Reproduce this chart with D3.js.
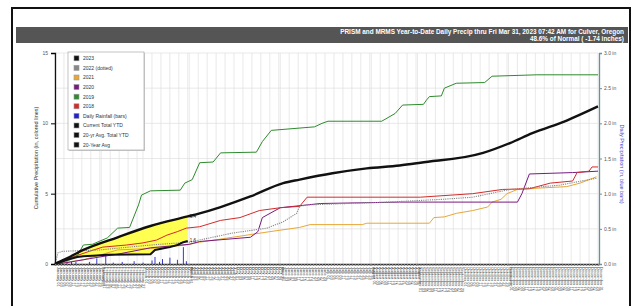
<!doctype html>
<html lang="en">
<head>
<meta charset="UTF-8">
<title>YTD Precip</title>
<script src="https://d3js.org/d3.v7.min.js"></script>
<style>
  body { margin: 0; background: #fff; }
  svg { display: block; font-family: "Liberation Sans", Arial, sans-serif; }
  .grid line { stroke: #e0e0e0; stroke-width: 0.7; }
</style>
</head>
<body>
<svg width="640" height="306"></svg>
<script>
// ---- data (day of year, inches) ----
const avg20 = [[1,0],[9,0.4],[20,1.0],[43,1.9],[65,2.7],[90,3.38],[98,3.6],[112,4.05],[132,4.8],[154,5.75],[165,6.0],[187,6.45],[210,6.8],[232,7.0],[246,7.2],[288,7.9],[306,8.6],[321,9.3],[344,10.2],[365,11.2]];
const y2023 = [[1,0],[9,0.3],[16,0.5],[20,0.55],[29,0.6],[36,0.65],[65,0.7],[68,1.0],[73,1.1],[78,1.2],[83,1.35],[87,1.55],[90,1.64]];
const y2022 = [[1,0],[3,0.8],[6,0.9],[31,1.0],[65,1.35],[91,1.55],[120,2.2],[143,2.55],[154,3.0],[163,3.6],[165,4.1],[170,4.2],[224,4.4],[261,4.6],[281,4.75],[306,5.3],[339,5.6],[364,6.1]];
const y2021 = [[1,0],[20,0.3],[43,1.0],[65,1.1],[89,1.35],[98,1.55],[120,1.9],[145,2.3],[165,2.6],[172,2.8],[207,2.8],[210,2.9],[252,2.9],[255,3.3],[262,3.35],[270,3.6],[281,3.8],[291,4.05],[294,4.4],[300,4.6],[304,5.0],[311,5.3],[326,5.4],[344,5.5],[353,5.75],[364,6.2]];
const y2020 = [[1,0],[9,0.1],[31,0.5],[43,0.7],[65,1.15],[91,1.4],[98,1.6],[132,1.9],[137,2.3],[140,3.3],[152,4.0],[170,4.2],[179,4.3],[232,4.4],[311,4.4],[314,5.0],[319,6.4],[348,6.5],[365,6.6]];
const y2019 = [[1,0],[11,0.3],[16,0.6],[20,1.35],[26,1.4],[36,1.85],[43,2.55],[51,2.6],[57,4.2],[59,4.9],[65,5.2],[85,5.25],[88,5.75],[93,6.0],[98,7.2],[107,7.25],[112,7.9],[136,7.95],[140,8.7],[146,9.5],[175,9.75],[180,10.0],[184,10.15],[220,10.15],[229,10.7],[234,11.3],[248,11.35],[250,11.65],[252,11.9],[260,11.95],[262,12.5],[270,12.85],[289,12.9],[294,13.35],[324,13.45],[365,13.45]];
const y2018 = [[1,0],[4,0.1],[13,0.5],[24,0.9],[33,1.2],[49,1.35],[60,1.5],[69,1.7],[76,2.05],[83,2.3],[89,2.55],[98,2.65],[112,3.1],[125,3.3],[138,3.8],[152,4.0],[165,4.1],[170,4.75],[246,4.75],[281,5.0],[301,5.3],[319,5.35],[333,5.75],[348,5.9],[351,6.5],[359,6.6],[361,6.9],[365,6.9]];
const daily2023 = [[3,0.04],[6,0.07],[9,0.05],[12,0.04],[15,0.03],[24,0.03],[29,0.08],[35,0.14],[40,0.02],[46,0.03],[54,0.04],[60,0.02],[66,0.05],[68,0.1],[71,0.03],[73,0.07],[78,0.09],[83,0.06],[87,0.24],[89,0.04]];

const leftTicks = [0, 5, 10, 15];
const rightTicks = [0, 0.5, 1.0, 1.5, 2.0, 2.5, 3.0];
const legendItems = [
  ["2023", "#111"], ["2022 (dotted)", "#888"], ["2021", "#e8a735"], ["2020", "#7a1a80"],
  ["2019", "#2e8b2e"], ["2018", "#d42a2a"], ["Daily Rainfall (bars)", "#2222cc"],
  ["Current Total YTD", "#111"], ["20-yr Avg. Total YTD", "#111"], ["20-Year Avg", "#111"]
];
const title1 = "PRISM and MRMS Year-to-Date Daily Precip thru Fri Mar 31, 2023 07:42 AM for Culver, Oregon";
const title2 = "48.6% of Normal ( -1.74 inches)";

const svg = d3.select("svg");
const L = 55, R = 598, T = 53, B = 264;

// frame + title bar
svg.append("rect").attr("x", 12).attr("y", 8).attr("width", 618).attr("height", 310)
  .attr("fill", "#fff").attr("stroke", "#111").attr("stroke-width", 2);
svg.append("rect").attr("x", 16).attr("y", 27).attr("width", 612).attr("height", 16).attr("fill", "#555");
svg.append("text").attr("x", 624).attr("y", 34).attr("text-anchor", "end")
  .attr("fill", "#fff").attr("font-size", 6.4).attr("font-weight", "bold").text(title1);
svg.append("text").attr("x", 624).attr("y", 40.6).attr("text-anchor", "end")
  .attr("fill", "#fff").attr("font-size", 6.4).attr("font-weight", "bold").text(title2);

const start = new Date(2023, 0, 1);
const toDate = d => d3.timeDay.offset(start, d - 1);
const x = d3.scaleTime().domain([start, new Date(2023, 11, 31)]).range([L, R]);
const y = d3.scaleLinear().domain([0, 15]).range([B, T]);
const y2 = d3.scaleLinear().domain([0, 3]).range([B, T]);

// grid
const grid = svg.append("g").attr("class", "grid");
grid.selectAll(".v").data(d3.timeDay.every(6).range(start, new Date(2024, 0, 1)))
  .join("line").attr("x1", d => x(d)).attr("x2", d => x(d)).attr("y1", T).attr("y2", B);
grid.selectAll(".h").data(rightTicks.slice(1))
  .join("line").attr("x1", L).attr("x2", R).attr("y1", d => y2(d)).attr("y2", d => y2(d))
  .attr("stroke", "#d4d4d4");

const line = d3.line().x(p => x(toDate(p[0]))).y(p => y(p[1]));
const smooth = d3.line().x(p => x(toDate(p[0]))).y(p => y(p[1])).curve(d3.curveMonotoneX);

// yellow deficit area (Jan 1 - Mar 31): below the average curve, above the 2023 line
const avgYtd = avg20.filter(p => p[0] <= 90);
const xEnd = x(toDate(90)), xStart = x(toDate(1));
svg.append("clipPath").attr("id", "belowAvg").append("path")
  .attr("d", smooth(avgYtd) + `L${xEnd},${B}L${xStart},${B}Z`);
svg.append("path")
  .attr("d", line(y2023) + `L${xEnd},${T}L${xStart},${T}Z`)
  .attr("clip-path", "url(#belowAvg)")
  .attr("fill", "#ffff33").attr("opacity", 0.85);

// daily bars
svg.selectAll(".bar").data(daily2023).join("rect")
  .attr("x", d => x(toDate(d[0])) - 0.4).attr("width", 0.9)
  .attr("y", d => y2(d[1])).attr("height", d => B - y2(d[1]))
  .attr("fill", "#2222cc");

const series = [
  [y2021, "#e8a735", 1, null, line],
  [y2020, "#7a1a80", 1, null, line],
  [y2018, "#d42a2a", 1, null, line],
  [y2022, "#888", 1.1, "1.2,1", line],
  [y2019, "#2e8b2e", 1, null, line],
  [avg20, "#111", 2.4, null, smooth],
  [y2023, "#111", 2, null, line]
];
series.forEach(([pts, c, w, dash, gen]) => {
  svg.append("path").attr("d", gen(pts))
    .attr("fill", "none").attr("stroke", c).attr("stroke-width", w)
    .attr("stroke-dasharray", dash).attr("stroke-linejoin", "round");
});

// end labels
[avg20.find(p => p[0] === 90), y2023[y2023.length - 1]].forEach(p => {
  svg.append("text").attr("x", x(toDate(p[0])) + 2).attr("y", y(p[1]) + 1.5)
    .attr("font-size", 4.5).attr("fill", "#222").text(p[1].toFixed(1));
});

// axes
const gl = svg.append("g").attr("transform", `translate(${L},0)`)
  .call(d3.axisLeft(y).tickValues(leftTicks).tickSize(4).tickPadding(3));
gl.select(".domain").attr("stroke", "#111").attr("stroke-width", 1.3);
gl.selectAll("text").attr("font-size", 5).attr("fill", "#555");

const gr = svg.append("g").attr("transform", `translate(${R + 1},0)`)
  .call(d3.axisRight(y2).tickValues(rightTicks).tickSize(3).tickPadding(2)
    .tickFormat(d => d.toFixed(1) + " in"));
gr.select(".domain").attr("stroke", "#6b9095").attr("stroke-width", 1.3);
gr.selectAll("line").attr("stroke", "#6b9095");
gr.selectAll("text").attr("font-size", 5).attr("fill", "#555");

const gb = svg.append("g").attr("transform", `translate(0,${B})`)
  .call(d3.axisBottom(x).ticks(d3.timeDay.every(2)).tickSize(2).tickFormat(d3.timeFormat("%B %d")));
gb.select(".domain").attr("stroke", "#333").attr("stroke-width", 1.3);
gb.selectAll("line").attr("stroke", "#888");
gb.selectAll("text").attr("font-size", 4).attr("fill", "#444")
  .attr("text-anchor", "start").attr("dy", 0)
  .attr("transform", "translate(1.3,3) rotate(90)").attr("y", 0).attr("x", 0);

// axis titles
svg.append("text").attr("transform", "translate(38,158) rotate(-90)")
  .attr("text-anchor", "middle").attr("font-size", 5.5).attr("fill", "#333")
  .text("Cumulative Precipitation (in, colored lines)");
svg.append("text").attr("transform", "translate(620,164) rotate(90)")
  .attr("text-anchor", "middle").attr("font-size", 5.5).attr("fill", "#3a3acc")
  .text("Daily Precipitation (in, blue bars)");

// legend
const lg = svg.append("g").attr("transform", "translate(68,52)");
lg.append("rect").attr("x", 1).attr("y", 1).attr("width", 76).attr("height", 98).attr("fill", "#ccc");
lg.append("rect").attr("width", 76).attr("height", 98).attr("fill", "#fff").attr("stroke", "#aaa").attr("stroke-width", 0.7);
const li = lg.selectAll(".li").data(legendItems).join("g")
  .attr("transform", (d, i) => `translate(6,${6.3 + i * 9.6})`);
li.append("rect").attr("x", 0).attr("y", -2.5).attr("width", 5).attr("height", 5)
  .attr("fill", d => d[1]).attr("stroke", "#999").attr("stroke-width", 0.6);
li.append("text").attr("x", 9).attr("y", 1.8).attr("font-size", 5).attr("fill", "#333").text(d => d[0]);
</script>
</body>
</html>
